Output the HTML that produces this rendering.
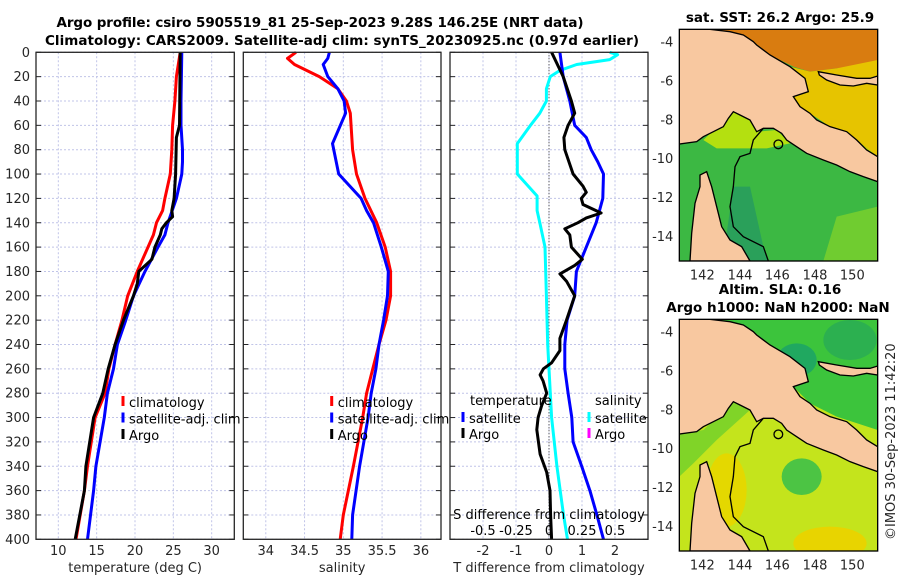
<!DOCTYPE html>
<html><head><meta charset="utf-8"><style>
html,body{margin:0;padding:0;background:#fff;}
svg{display:block;font-family:"DejaVu Sans","Liberation Sans",sans-serif;}
</style></head><body>
<svg id="fig" width="900" height="580" viewBox="0 0 900 580" xmlns="http://www.w3.org/2000/svg">
<rect width="900" height="580" fill="#fff"/>
<text x="320" y="27" text-anchor="middle" font-weight="bold" font-size="13.5" textLength="527" fill="#000">Argo profile: csiro 5905519_81 25-Sep-2023 9.28S 146.25E (NRT data)</text>
<text x="342" y="45" text-anchor="middle" font-weight="bold" font-size="13.5" textLength="594" fill="#000">Climatology: CARS2009. Satellite-adj clim: synTS_20230925.nc (0.97d earlier)</text>
<g id="plots"></g>

<!-- SST map -->
<text x="780" y="22" text-anchor="middle" font-weight="bold" font-size="13.5">sat. SST: 26.2 Argo: 25.9</text>
<svg x="650" y="0" width="250" height="290" viewBox="0 0 750 870">
<defs><clipPath id="c1"><rect x="88" y="88" width="595" height="695"/></clipPath></defs>
<g clip-path="url(#c1)">
<rect x="88" y="88" width="595" height="695" fill="#3cb843"/>
<polygon fill="#d97c10" points="180,88 683,88 683,180 620,200 560,205 480,215 430,200 360,165 310,125 240,95"/>
<polygon fill="#e6c400" points="420,200 480,215 560,205 683,180 683,470 620,420 540,380 480,340 450,320 430,290 475,275 465,235"/>
<polygon fill="#b4e010" points="160,420 250,335 300,360 320,395 380,390 420,430 350,445 200,445"/>
<polygon fill="#c8e000" points="540,380 620,420 683,470 683,520 560,480 480,440 500,390"/>
<polygon fill="#2aa05a" points="250,560 300,560 340,740 355,783 250,783 230,700"/>
<polygon fill="#70cc30" points="560,650 683,620 683,783 520,783"/>
<polygon fill="#f8c8a0" stroke="#000" stroke-width="4" points="88,88 180,88 240,95 280,105 310,125 320,135 360,165 420,200 465,235 475,275 430,290 450,320 480,340 500,360 540,380 590,395 620,420 650,450 683,470 683,545 640,530 600,515 560,495 520,480 470,460 440,440 410,420 395,400 370,385 340,385 320,395 300,360 270,345 250,335 235,355 220,380 190,395 160,410 140,425 88,432"/>
<polygon fill="#f8c8a0" stroke="#000" stroke-width="4" points="505,215 560,225 620,235 660,235 683,228 683,255 650,250 610,258 570,255 530,240 508,225"/>
<polygon fill="#f8c8a0" stroke="#000" stroke-width="4" points="120,783 125,700 135,610 150,560 150,525 170,515 185,560 200,620 215,680 240,720 275,740 300,783"/>
<polyline fill="none" stroke="#000" stroke-width="4" points="340,385 310,420 300,460 270,470 255,500 250,560 240,620 250,680 280,710 340,740 355,783"/>
<circle cx="385" cy="433" r="13" fill="none" stroke="#000" stroke-width="4"/>
</g>
<rect x="88" y="88" width="595" height="695" fill="none" stroke="#000" stroke-width="4"/>
<g font-size="39" fill="#262626" text-anchor="end">
<text x="70" y="139">-4</text><text x="70" y="256">-6</text><text x="70" y="373">-8</text><text x="70" y="489">-10</text><text x="70" y="606">-12</text><text x="70" y="723">-14</text></g>
<g font-size="39" fill="#262626" text-anchor="middle">
<text x="157" y="838">142</text><text x="270" y="838">144</text><text x="382" y="838">146</text><text x="495" y="838">148</text><text x="607" y="838">150</text></g>
</svg>

<!-- SLA map -->
<text x="780" y="294" text-anchor="middle" font-weight="bold" font-size="13.5">Altim. SLA: 0.16</text>
<text x="778" y="312" text-anchor="middle" font-weight="bold" font-size="13.5">Argo h1000: NaN h2000: NaN</text>
<svg x="650" y="290" width="250" height="290" viewBox="0 0 750 870">
<defs><clipPath id="c2"><rect x="88" y="88" width="595" height="695"/></clipPath></defs>
<g clip-path="url(#c2)">
<rect x="88" y="88" width="595" height="695" fill="#c4e41c"/>
<polygon fill="#3cc43c" points="180,88 683,88 683,420 560,380 480,340 430,290 475,275 420,200 360,165 310,125"/>
<ellipse cx="440" cy="210" rx="60" ry="50" fill="#20a860"/>
<ellipse cx="600" cy="150" rx="80" ry="60" fill="#2cb050"/>
<polygon fill="#80d428" points="88,432 160,420 250,335 300,360 200,450 130,520 88,560"/>
<ellipse cx="455" cy="560" rx="60" ry="55" fill="#4cc444"/>
<ellipse cx="230" cy="600" rx="60" ry="110" fill="#e4d800"/>
<ellipse cx="540" cy="760" rx="110" ry="50" fill="#e8d400"/>
<polygon fill="#f8c8a0" stroke="#000" stroke-width="4" points="88,88 180,88 240,95 280,105 310,125 320,135 360,165 420,200 465,235 475,275 430,290 450,320 480,340 500,360 540,380 590,395 620,420 650,450 683,470 683,545 640,530 600,515 560,495 520,480 470,460 440,440 410,420 395,400 370,385 340,385 320,395 300,360 270,345 250,335 235,355 220,380 190,395 160,410 140,425 88,432"/>
<polygon fill="#f8c8a0" stroke="#000" stroke-width="4" points="505,215 560,225 620,235 660,235 683,228 683,255 650,250 610,258 570,255 530,240 508,225"/>
<polygon fill="#f8c8a0" stroke="#000" stroke-width="4" points="120,783 125,700 135,610 150,560 150,525 170,515 185,560 200,620 215,680 240,720 275,740 300,783"/>
<polyline fill="none" stroke="#000" stroke-width="4" points="340,385 310,420 300,460 270,470 255,500 250,560 240,620 250,680 280,710 340,740 355,783"/>
<circle cx="385" cy="433" r="13" fill="none" stroke="#000" stroke-width="4"/>
</g>
<rect x="88" y="88" width="595" height="695" fill="none" stroke="#000" stroke-width="4"/>
<g font-size="39" fill="#262626" text-anchor="end">
<text x="70" y="139">-4</text><text x="70" y="256">-6</text><text x="70" y="373">-8</text><text x="70" y="489">-10</text><text x="70" y="606">-12</text><text x="70" y="723">-14</text></g>
<g font-size="39" fill="#262626" text-anchor="middle">
<text x="157" y="838">142</text><text x="270" y="838">144</text><text x="382" y="838">146</text><text x="495" y="838">148</text><text x="607" y="838">150</text></g>
</svg>
<text transform="translate(895,540) rotate(-90)" font-size="13" fill="#262626">©IMOS 30-Sep-2023 11:42:20</text>
</svg>
<script>
// ---- data ----
const tDepthClim = [0,20,40,60,80,100,120,130,140,150,160,180,200,220,240,260,280,300,340,360,400];
const tClim      = [25.9,25.4,25.2,24.9,24.8,24.6,23.9,23.6,22.8,22.4,21.7,20.3,19.05,18.3,17.4,16.6,16.1,14.8,13.8,13.4,12.3];
const tDepthSat  = [0,40,60,80,90,100,120,140,150,160,180,200,220,240,260,280,300,340,360,400];
const tSat       = [26.1,26.0,26.0,26.2,26.2,26.1,25.4,24.3,23.9,23.0,21.3,19.8,18.8,17.7,17.2,16.4,16.0,14.9,14.6,13.8];
const tDepthArgo = [0,60,70,100,120,130,135,140,145,150,160,170,180,190,200,220,240,260,280,300,340,360,400];
const tArgo      = [25.9,25.8,25.4,25.3,25.1,24.8,24.9,24.1,23.5,23.3,22.6,22.2,20.5,20.3,19.8,18.5,17.4,16.5,15.8,14.6,13.6,13.4,12.2];
const sDepthClim = [0,5,10,20,30,40,50,80,100,120,140,160,180,200,220,240,260,280,300,340,380,400];
const sClim      = [34.39,34.28,34.37,34.69,34.93,35.04,35.09,35.12,35.17,35.28,35.43,35.54,35.61,35.61,35.55,35.46,35.38,35.30,35.25,35.13,35.0,34.96];
const sDepthSat  = [0,5,10,20,30,40,50,75,100,120,130,140,160,180,200,220,240,260,280,300,340,380,400];
const sSat       = [34.82,34.80,34.74,34.80,34.93,35.01,35.03,34.86,34.94,35.23,35.30,35.39,35.49,35.58,35.57,35.52,35.46,35.42,35.36,35.32,35.21,35.12,35.11];
const dDepthS    = [0,2,6,10,15,20,30,40,50,60,75,90,100,118,130,140,160,200,240,260,280,300,340,380,400];
const dSatS      = [0.46,0.52,0.46,0.21,0.08,0.01,-0.02,-0.02,-0.07,-0.14,-0.24,-0.24,-0.24,-0.09,-0.09,-0.07,-0.03,-0.02,-0.01,0,0.01,0.02,0.06,0.11,0.14];
const dDepthT    = [0,20,40,60,70,80,90,100,120,140,160,180,200,220,240,260,280,300,320,340,360,380,400];
const dSatT      = [0.33,0.43,0.63,0.78,1.13,1.28,1.48,1.65,1.63,1.43,1.13,0.83,0.78,0.55,0.48,0.48,0.58,0.69,0.73,0.99,1.24,1.45,1.65];
const dDepthArgo = [0,20,40,50,60,70,80,100,110,115,120,125,132,136,140,145,150,160,170,175,182,188,200,220,235,245,255,260,265,270,280,290,300,310,330,345,360,380,400];
const dArgoT     = [0.08,0.43,0.68,0.78,0.58,0.45,0.48,0.73,1.03,1.13,0.98,1.03,1.58,1.13,0.88,0.48,0.63,0.68,1.01,0.78,0.33,0.53,0.78,0.53,0.33,0.33,0.08,-0.17,-0.27,-0.18,-0.07,-0.22,-0.33,-0.37,-0.27,-0.07,0.03,0.05,0.08];
const depthTicks = [0,20,40,60,80,100,120,140,160,180,200,220,240,260,280,300,320,340,360,380,400];
const tTicks = [10,15,20,25,30];
const sTicks = [34,34.5,35,35.5,36];
const dTTicks = [-2,-1,0,1,2];
const dSTicks = [-0.5,-0.25,0,0.25,0.5];
const dSTickLabels = ['-0.5','-0.25','0','0.25','0.5'];

const NS='http://www.w3.org/2000/svg';
const root=document.getElementById('plots');
const Y0=52.3,Y1=539.3;
const yOf=d=>Y0+(d-0)/(400-0)*(Y1-Y0);
function mk(tag,attrs,parent){const e=document.createElementNS(NS,tag);for(const k in attrs)e.setAttribute(k,attrs[k]);(parent||root).appendChild(e);return e;}
function scale(d0,d1,r0,r1){return v=>r0+(v-d0)/(d1-d0)*(r1-r0);}

const panels=[
 {name:'temperature-panel',x0:36,x1:234.3,xs:scale(7.09,32.95,36,234.3),ticks:tTicks,labels:tTicks.map(String),label:'temperature (deg C)'},
 {name:'salinity-panel',x0:243.3,x1:441,xs:scale(33.71,36.26,243.3,441),ticks:sTicks,labels:sTicks.map(String),label:'salinity'},
 {name:'difference-panel',x0:450,x1:648,xs:scale(-3,3,450,648),ticks:dTTicks,labels:dTTicks.map(String),label:'T difference from climatology'}
];
panels.forEach((p,i)=>{
  const g=mk('g',{});
  
  
  depthTicks.forEach(d=>{
    const l=mk('line',{x1:p.x0,x2:p.x1,y1:yOf(d),y2:yOf(d),stroke:'#c0c4e8','stroke-width':1,'stroke-dasharray':'2,2'},g);
    
    
    mk('line',{x1:p.x0,x2:p.x0+5,y1:yOf(d),y2:yOf(d),stroke:'#262626'},g);
    mk('line',{x1:p.x1-5,x2:p.x1,y1:yOf(d),y2:yOf(d),stroke:'#262626'},g);
  });
  p.ticks.forEach((t,j)=>{
    const x=p.xs(t);
    const l=mk('line',{x1:x,x2:x,y1:Y0,y2:Y1,stroke:'#c0c4e8','stroke-width':1,'stroke-dasharray':'2,2'},g);
    
    
    const tx=mk('text',{x:x,y:555,'text-anchor':'middle','font-size':13,fill:'#262626'},g);
    tx.textContent=p.labels[j];
    
    
  });
  const xl=mk('text',{x:(p.x0+p.x1)/2,y:572,'text-anchor':'middle','font-size':13,fill:'#262626'},g);
  xl.textContent=p.label;
  
  
});
depthTicks.forEach(d=>{
  const t=mk('text',{x:30,y:yOf(d)+4.5,'text-anchor':'end','font-size':13,fill:'#262626'});
  t.textContent=String(d);
  
  
});
// zero line in diff panel
const zl=mk('line',{x1:panels[2].xs(0),x2:panels[2].xs(0),y1:Y0,y2:Y1,stroke:'#333','stroke-width':1,'stroke-dasharray':'1,2'});



function line(xs,vals,depths,color,name){
  const pts=vals.map((v,i)=>xs(v).toFixed(1)+','+yOf(depths[i]).toFixed(1)).join(' ');
  const e=mk('polyline',{points:pts,fill:'none',stroke:color,'stroke-width':3,'stroke-linejoin':'round'});
  
  
}
const sDiff=scale(-0.75,0.75,450,648);
line(panels[0].xs,tClim,tDepthClim,'#ff0000','temp-climatology-line');
line(panels[0].xs,tSat,tDepthSat,'#0000ff','temp-satellite-line');
line(panels[0].xs,tArgo,tDepthArgo,'#000000','temp-argo-line');
line(panels[1].xs,sClim,sDepthClim,'#ff0000','sal-climatology-line');
line(panels[1].xs,sSat,sDepthSat,'#0000ff','sal-satellite-line');
line(sDiff,dSatS,dDepthS,'#00ffff','sal-diff-satellite-line');
line(panels[2].xs,dSatT,dDepthT,'#0000ff','temp-diff-satellite-line');
line(panels[2].xs,dArgoT,dDepthArgo,'#000000','temp-diff-argo-line');

// S axis inside panel 3
const st=mk('text',{x:549,y:519,'text-anchor':'middle','font-size':13,fill:'#000'});
st.textContent='S difference from climatology';


dSTicks.forEach((t,j)=>{
  const e=mk('text',{x:sDiff(t),y:535,'text-anchor':'middle','font-size':13,fill:'#000'});
  e.textContent=dSTickLabels[j];
  
  
});
// frames
panels.forEach(p=>{
  const r=mk('rect',{x:p.x0,y:Y0,width:p.x1-p.x0,height:Y1-Y0,fill:'none',stroke:'#262626','stroke-width':1.3});
  
  
});
// legends
function legend(x,y,color,label){
  const g=mk('g',{});
  
  
  mk('rect',{x:x-1.5,y:y-11,width:3,height:10,fill:color},g);
  const t=mk('text',{x:x+6,y:y,'font-size':13,fill:'#000'},g);
  t.textContent=label;
}
[[123,'#ff0000','climatology'],[123,'#0000ff','satellite-adj. clim'],[123,'#000','Argo']].forEach((a,i)=>legend(a[0],407+i*16.5,a[1],a[2]));
[[331.7,'#ff0000','climatology'],[331.7,'#0000ff','satellite-adj. clim'],[331.7,'#000','Argo']].forEach((a,i)=>legend(a[0],407+i*16.5,a[1],a[2]));
const lt=mk('text',{x:470,y:405,'font-size':13,fill:'#000'});lt.textContent='temperature';


const ls=mk('text',{x:595,y:405,'font-size':13,fill:'#000'});ls.textContent='salinity';


legend(463,423,'#0000ff','satellite');
legend(463,439,'#000','Argo');
legend(589,423,'#00ffff','satellite');
legend(589,439,'#ff00ff','Argo');
</script>
</body></html>
